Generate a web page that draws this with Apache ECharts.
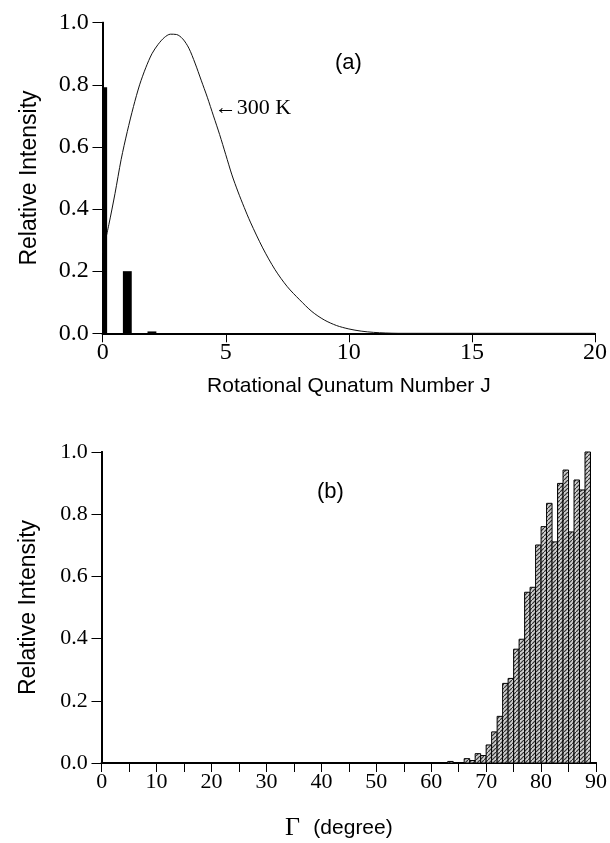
<!DOCTYPE html>
<html>
<head>
<meta charset="utf-8">
<script src="https://cdn.jsdelivr.net/npm/echarts@6/dist/echarts.min.js"></script>
<style>
html, body { margin: 0; padding: 0; background: #ffffff; }
#chart { width: 610px; height: 843px; }
</style>
</head>
<body>
<div id="chart"></div>
<script>
// panel (a): rotational population (bars) and 300 K distribution (curve)
var jLevels = [0, 1, 2];
var jPopulation = [0.792, 0.200, 0.006];
var curveJ = [0, 0.25, 0.5, 0.75, 1.0, 1.25, 1.5, 1.75, 2.0, 2.25, 2.5, 2.75, 3.0, 3.25, 3.5, 3.75, 4.0, 4.25, 4.5, 4.75, 5.0, 5.25, 5.5, 5.75, 6.0, 6.5, 7.0, 7.5, 8.0, 8.5, 9.0, 9.5, 10.0, 10.5, 11.0, 11.5, 12.0, 20];
var curveI = [0.26, 0.35, 0.45, 0.56, 0.65, 0.73, 0.80, 0.855, 0.90, 0.93, 0.952, 0.963, 0.962, 0.948, 0.918, 0.87, 0.815, 0.76, 0.70, 0.64, 0.575, 0.51, 0.455, 0.405, 0.358, 0.275, 0.205, 0.15, 0.108, 0.07, 0.043, 0.025, 0.014, 0.007, 0.003, 0.001, 0, 0];

// panel (b): angle distribution, 1 degree bins (left edge)
var gammaBins = [63, 64, 65, 66, 67, 68, 69, 70, 71, 72, 73, 74, 75, 76, 77, 78, 79, 80, 81, 82, 83, 84, 85, 86, 87, 88];
var gammaI = [0.005, 0, 0, 0.014, 0.008, 0.03, 0.024, 0.058, 0.10, 0.15, 0.256, 0.272, 0.366, 0.398, 0.549, 0.565, 0.701, 0.760, 0.835, 0.711, 0.899, 0.942, 0.743, 0.910, 0.878, 1.0];

var serif = 'Liberation Serif';
var sans = 'Liberation Sans';

// hatch texture for the histogram bars
var hatch = document.createElement('canvas');
hatch.width = 4; hatch.height = 4;
var hc = hatch.getContext('2d');
hc.fillStyle = '#cfcfcf';
hc.fillRect(0, 0, 4, 4);
hc.strokeStyle = '#333';
hc.lineWidth = 1.2;
hc.beginPath();
hc.moveTo(-1, 5); hc.lineTo(5, -1);
hc.stroke();

var chart = echarts.init(document.getElementById('chart'));

var clipTo = function (rect, cs) {
    return echarts.graphic.clipRectByRect(rect, {x: cs.x, y: cs.y, width: cs.width, height: cs.height});
};

var renderLevel = function (params, api) {
    var j = api.value(0), v = api.value(1);
    var p0 = api.coord([j - 0.18, 0]);
    var p1 = api.coord([j + 0.18, v]);
    var r = clipTo({x: p0[0], y: p1[1], width: p1[0] - p0[0], height: p0[1] - p1[1]}, params.coordSys);
    return r && {type: 'rect', shape: r, style: {fill: '#000'}};
};

var renderBin = function (params, api) {
    var d = api.value(0), v = api.value(1);
    if (!v) return null;
    var p0 = api.coord([d, 0]);
    var p1 = api.coord([d + 1, v]);
    var r = clipTo({x: p0[0], y: p1[1], width: p1[0] - p0[0], height: p0[1] - p1[1]}, params.coordSys);
    return r && {type: 'rect', shape: r, style: {fill: {type: 'pattern', image: hatch, repeat: 'repeat'}, stroke: '#000', lineWidth: 1}};
};

var axisLine = {show: true, lineStyle: {color: '#000', width: 2}};
var fixed1 = function (v) { return v.toFixed(1); };

var option = {
    backgroundColor: '#ffffff',
    animation: false,
    grid: [
        {left: 102.7, right: 13.3, top: 22.7, bottom: 509.7},
        {left: 101.7, right: 13, top: 452, bottom: 80}
    ],
    xAxis: [
        {
            gridIndex: 0, type: 'value', min: 0, max: 20, interval: 5, position: 'bottom',
            axisLine: axisLine, splitLine: {show: false},
            axisTick: {show: true, inside: false, length: 8, lineStyle: {color: '#000', width: 1}},
            axisLabel: {fontFamily: serif, fontSize: 24, color: '#000', margin: 7},
            name: 'Rotational Qunatum Number J', nameLocation: 'middle', nameGap: 42,
            nameTextStyle: {fontFamily: sans, fontSize: 21, color: '#000'}
        },
        {
            gridIndex: 0, type: 'value', min: 0, max: 20, interval: 5, position: 'top',
            axisLine: axisLine, splitLine: {show: false}, axisLabel: {show: false},
            axisTick: {show: true, inside: true, length: 9, lineStyle: {color: '#000', width: 1}}
        },
        {
            gridIndex: 1, type: 'value', min: 0, max: 90, interval: 5, position: 'bottom',
            axisLine: axisLine, splitLine: {show: false},
            axisTick: {show: true, inside: false, length: 7, lineStyle: {color: '#000', width: 1}},
            axisLabel: {fontFamily: serif, fontSize: 22, color: '#000', margin: 8,
                formatter: function (v) { return v % 10 === 0 ? String(v) : ''; }},
            name: '{g|\u0393}    {d|(degree)}', nameLocation: 'middle', nameGap: 52,
            nameTextStyle: {padding: [0, 20, 0, 0], rich: {
                g: {fontFamily: serif, fontSize: 26, color: '#000'},
                d: {fontFamily: sans, fontSize: 21, color: '#000'}
            }}
        },
        {
            gridIndex: 1, type: 'value', min: 0, max: 90, interval: 5, position: 'top',
            axisLine: axisLine, splitLine: {show: false}, axisLabel: {show: false},
            axisTick: {show: true, inside: true, length: 9, lineStyle: {color: '#000', width: 1}}
        }
    ],
    yAxis: [
        {
            gridIndex: 0, type: 'value', min: 0, max: 1, interval: 0.2, position: 'left',
            axisLine: axisLine, splitLine: {show: false},
            axisTick: {show: true, inside: false, length: 10, lineStyle: {color: '#000', width: 1}},
            axisLabel: {fontFamily: serif, fontSize: 24, color: '#000', margin: 14, formatter: fixed1},
            name: 'Relative Intensity', nameLocation: 'middle', nameGap: 62,
            nameTextStyle: {fontFamily: sans, fontSize: 23, color: '#000'}
        },
        {
            gridIndex: 0, type: 'value', min: 0, max: 1, interval: 0.2, position: 'right',
            axisLine: axisLine, splitLine: {show: false}, axisLabel: {show: false},
            axisTick: {show: true, inside: true, length: 10, lineStyle: {color: '#000', width: 1}}
        },
        {
            gridIndex: 1, type: 'value', min: 0, max: 1, interval: 0.2, position: 'left',
            axisLine: axisLine, splitLine: {show: false},
            axisTick: {show: true, inside: false, length: 10, lineStyle: {color: '#000', width: 1}},
            axisLabel: {fontFamily: serif, fontSize: 22, color: '#000', margin: 14, formatter: fixed1},
            name: 'Relative Intensity', nameLocation: 'middle', nameGap: 62,
            nameTextStyle: {fontFamily: sans, fontSize: 23, color: '#000'}
        },
        {
            gridIndex: 1, type: 'value', min: 0, max: 1, interval: 0.2, position: 'right',
            axisLine: axisLine, splitLine: {show: false}, axisLabel: {show: false},
            axisTick: {show: true, inside: true, length: 10, lineStyle: {color: '#000', width: 1}}
        }
    ],
    series: [
        {
            type: 'line', xAxisIndex: 0, yAxisIndex: 0, z: 2,
            data: curveJ.map(function (j, i) { return [j, curveI[i]]; }),
            smooth: 0.3, showSymbol: false, symbol: 'none',
            lineStyle: {color: '#111', width: 1},
            markPoint: {
                symbol: 'circle', symbolSize: 0,
                data: [{coord: [4.55, 0.725]}],
                label: {show: true, position: 'right', distance: 0, formatter: '\u2190300 K',
                    fontFamily: serif, fontSize: 22, color: '#000'}
            }
        },
        {
            type: 'custom', xAxisIndex: 0, yAxisIndex: 0, z: 3,
            renderItem: renderLevel,
            data: jLevels.map(function (j, i) { return [j, jPopulation[i]]; })
        },
        {
            type: 'custom', xAxisIndex: 2, yAxisIndex: 2, z: 3,
            renderItem: renderBin,
            data: gammaBins.map(function (d, i) { return [d, gammaI[i]]; })
        }
    ],
    graphic: [
        {type: 'text', left: 335, top: 52, style: {text: '(a)', fontFamily: sans, fontSize: 22, fill: '#000'}},
        {type: 'text', left: 317, top: 481, style: {text: '(b)', fontFamily: sans, fontSize: 22, fill: '#000'}}
    ]
};

chart.setOption(option);
</script>
</body>
</html>
